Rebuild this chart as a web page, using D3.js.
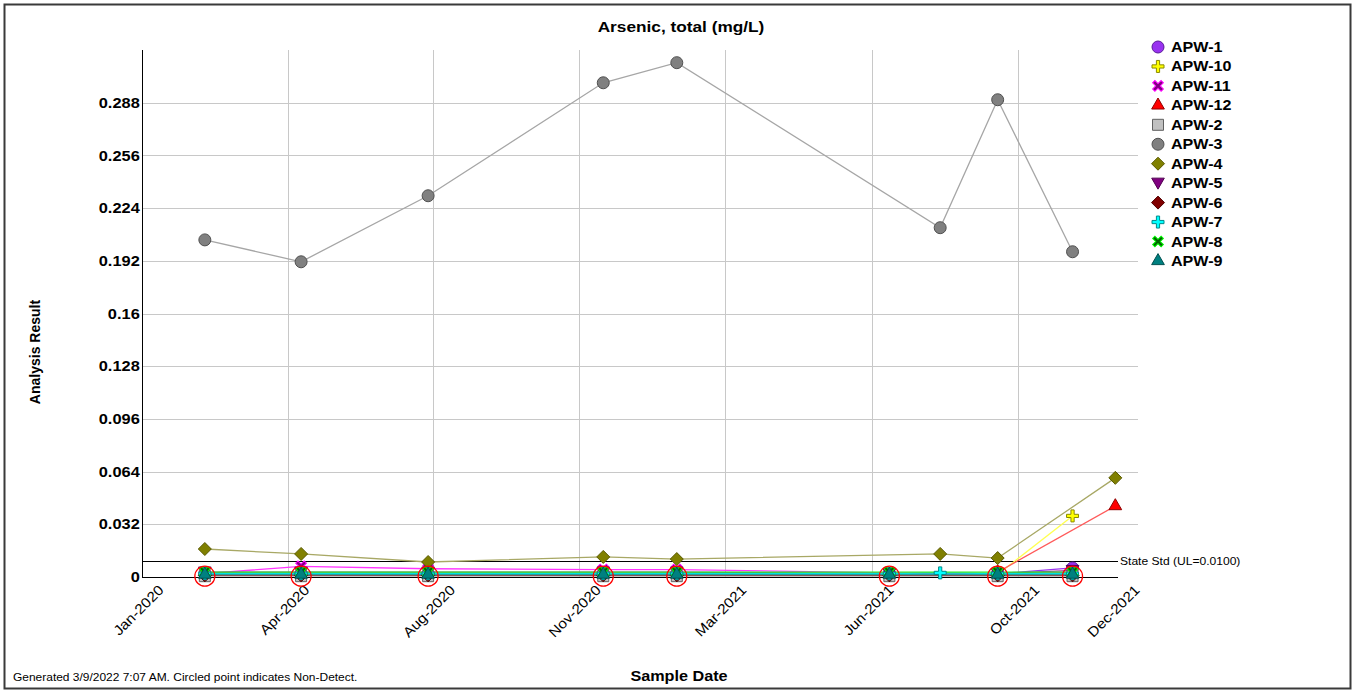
<!DOCTYPE html>
<html><head><meta charset="utf-8">
<script src="https://cdn.jsdelivr.net/npm/d3@7"></script>
<style>body{margin:0;background:#fff;}svg{display:block;font-family:"Liberation Sans",Arial,sans-serif;}</style>
</head><body><svg id="c" width="1355" height="692"></svg>
<script>
// ---- data ----
const wells = ["APW-1","APW-10","APW-11","APW-12","APW-2","APW-3","APW-4","APW-5","APW-6","APW-7","APW-8","APW-9"];
const lowDates = ["2020-02-17","2020-04-29","2020-08-02","2020-12-11","2021-02-04","2021-07-13","2021-10-02","2021-11-27"];
const apw1Values  = [0.002,0.002,0.002,0.002,0.002,0.002,0.002,0.0055];
const apw2Values  = [0.0005,0.0005,0.0005,0.0005,0.0005,0.0005,0.0005,0.0005];
const apw2NonDetect = [true,true,true,true,true,true,true,true];
const apw5Values  = [0.003,0.003,0.003,0.003,0.003,0.002,0.002,0.004];
const apw6Values  = [0.001,0.001,0.001,0.001,0.001,0.001,0.001,0.001];
const apw8Values  = [0.003,0.003,0.003,0.003,0.003,0.003,0.003,0.003];
const apw9Values  = [0.0015,0.0015,0.0015,0.0015,0.0015,0.0015,0.0015,0.0015];
const apw11Values = [0.002,0.0065,0.005,0.0045,0.0045,0.0025,0.002,0.003];
const apw7Dates   = ["2020-02-17","2020-04-29","2020-08-02","2020-12-11","2021-02-04","2021-07-13","2021-08-20","2021-10-02","2021-11-27"];
const apw7Values  = [0.002,0.002,0.002,0.002,0.002,0.002,0.0025,0.002,0.002];
const apw3Dates   = ["2020-02-17","2020-04-29","2020-08-02","2020-12-11","2021-02-04","2021-08-20","2021-10-02","2021-11-27"];
const apw3Values  = [0.2047,0.1914,0.2315,0.3001,0.3123,0.2121,0.2898,0.1975];
const apw4Dates   = ["2020-02-17","2020-04-29","2020-08-02","2020-12-11","2021-02-04","2021-08-20","2021-10-02","2021-12-29"];
const apw4Values  = [0.0170,0.0140,0.0091,0.0122,0.0109,0.0140,0.0115,0.0602];
const apw10Dates  = ["2021-10-02","2021-11-27"];
const apw10Values = [0.0015,0.0371];
const apw12Dates  = ["2021-10-02","2021-12-29"];
const apw12Values = [0.003,0.0431];
const yTicks = [0,0.032,0.064,0.096,0.128,0.16,0.192,0.224,0.256,0.288];
const xTickDates  = ["2020-01-01","2020-04-19","2020-08-06","2020-11-23","2021-03-12","2021-06-30","2021-10-17","2021-12-31"];
const xTickLabels = ["Jan-2020","Apr-2020","Aug-2020","Nov-2020","Mar-2021","Jun-2021","Oct-2021","Dec-2021"];
const stateStd = 0.01;

// ---- styles ----
const P = d3.timeParse("%Y-%m-%d");
const style = {
 "APW-1":{shape:"circle",fill:"#9932f0",stroke:"#5a1a9a",line:"#9932f0"},
 "APW-10":{shape:"plus",fill:"#ffff00",stroke:"#8a8a00",line:"#ffff50"},
 "APW-11":{shape:"x",fill:"#800080",stroke:"#ff00ff",line:"#ff33ff"},
 "APW-12":{shape:"tri",fill:"#ff0000",stroke:"#900000",line:"#ff5a5a"},
 "APW-2":{shape:"square",fill:"#c0c0c0",stroke:"#606060",line:"#b0b0b0"},
 "APW-3":{shape:"circle",fill:"#808080",stroke:"#505050",line:"#a6a6a6"},
 "APW-4":{shape:"diamond",fill:"#808000",stroke:"#5a5a00",line:"#a8a865"},
 "APW-5":{shape:"tridown",fill:"#800080",stroke:"#500050",line:"#a040a0"},
 "APW-6":{shape:"diamond",fill:"#800000",stroke:"#500000",line:"#a04040"},
 "APW-7":{shape:"plus",fill:"#00ffff",stroke:"#008b8b",line:"#00e0e0"},
 "APW-8":{shape:"x",fill:"#006400",stroke:"#00ff00",line:"#22ee22"},
 "APW-9":{shape:"tri",fill:"#008080",stroke:"#005050",line:"#20a0a0"}
};
const series = {
 "APW-1":{d:lowDates,v:apw1Values},
 "APW-10":{d:apw10Dates,v:apw10Values},
 "APW-11":{d:lowDates,v:apw11Values},
 "APW-12":{d:apw12Dates,v:apw12Values},
 "APW-2":{d:lowDates,v:apw2Values,nd:apw2NonDetect},
 "APW-3":{d:apw3Dates,v:apw3Values},
 "APW-4":{d:apw4Dates,v:apw4Values},
 "APW-5":{d:lowDates,v:apw5Values},
 "APW-6":{d:lowDates,v:apw6Values},
 "APW-7":{d:apw7Dates,v:apw7Values},
 "APW-8":{d:lowDates,v:apw8Values},
 "APW-9":{d:lowDates,v:apw9Values}
};

const svg = d3.select("#c");
const L=142, R=1118, GR=1138, T=50, B=577;
const x = d3.scaleTime().domain([P(xTickDates[0]), P(xTickDates[xTickDates.length-1])]).range([L,R]);
const y = d3.scaleLinear().domain([0,0.32]).range([B,T]);

function symPath(shape){
  switch(shape){
    case "circle": return d3.symbol(d3.symbolCircle,113)();
    case "square": return "M-5.5,-5.5H5.5V5.5H-5.5Z";
    case "diamond": return "M0,-6.5L6.5,0L0,6.5L-6.5,0Z";
    case "tri": return d3.symbol(d3.symbolTriangle,70)();
    case "tridown": return "M0,6L-6.3,-5L6.3,-5Z";
    case "plus":
    case "x": { const a=6,t=1.6; return `M${-t},${-a}H${t}V${-t}H${a}V${t}H${t}V${a}H${-t}V${t}H${-a}V${-t}H${-t}Z`; }
  }
}
function drawSym(g, name, cx, cy){
  const st=style[name];
  return g.append("path").attr("d",symPath(st.shape)).attr("fill",st.fill).attr("stroke",st.stroke).attr("stroke-width",1)
    .attr("transform",`translate(${cx},${cy})`+(st.shape==="x"?" rotate(45)":""));
}
function htext(px,py,str,size,weight,sx,anchor){
  return svg.append("text").attr("transform",`translate(${px},${py}) scale(${sx},1)`)
    .attr("text-anchor",anchor||"start").attr("font-size",size).attr("font-weight",weight||"normal").attr("fill","#000").text(str);
}

// border
svg.append("rect").attr("x",4.5).attr("y",4.5).attr("width",1346).attr("height",684).attr("fill","none").attr("stroke","#3a3a3a").attr("stroke-width",2);

// gridlines
svg.append("g").selectAll("line").data(yTicks.slice(1)).join("line")
  .attr("x1",L).attr("x2",GR).attr("y1",d=>Math.round(y(d))+0.5).attr("y2",d=>Math.round(y(d))+0.5).attr("stroke","#c8c8c8").attr("stroke-width",1);
svg.append("g").selectAll("line").data(xTickDates.slice(1,-1)).join("line")
  .attr("x1",d=>Math.round(x(P(d)))+0.5).attr("x2",d=>Math.round(x(P(d)))+0.5).attr("y1",T).attr("y2",B).attr("stroke","#c8c8c8").attr("stroke-width",1);

// axes
svg.append("line").attr("x1",L+0.5).attr("x2",L+0.5).attr("y1",T).attr("y2",B).attr("stroke","#000");
svg.append("line").attr("x1",L).attr("x2",R).attr("y1",B+0.5).attr("y2",B+0.5).attr("stroke","#000");
const yAxis = d3.axisLeft(y).tickValues(yTicks).tickSize(0).tickPadding(2).tickFormat(d=>d===0?"0":String(+d.toFixed(3)));
const gy = svg.append("g").attr("transform",`translate(${L},0)`).call(yAxis);
gy.select(".domain").remove();
gy.selectAll("text").attr("font-size",14.5).attr("font-weight","bold").attr("fill","#000").attr("font-family","Liberation Sans, Arial")
  .attr("transform","scale(1.13,1)");

const xAxis = d3.axisBottom(x).tickValues(xTickDates.map(P)).tickSize(0).tickFormat((d,i)=>xTickLabels[i]);
const gx = svg.append("g").attr("transform",`translate(0,${B})`).call(xAxis);
gx.select(".domain").remove();
gx.selectAll("text").attr("font-size",14).attr("fill","#000").attr("font-family","Liberation Sans, Arial")
  .attr("text-anchor","end").attr("dy",0).attr("y",0).attr("transform","translate(22,14) rotate(-45) scale(1.1,1)");

// state std
svg.append("line").attr("x1",L).attr("x2",R).attr("y1",Math.round(y(stateStd))+0.5).attr("y2",Math.round(y(stateStd))+0.5).attr("stroke","#000").attr("stroke-width",1);
htext(1120,y(stateStd)+4,"State Std (UL=0.0100)",11.5,"normal",1.05);

// series lines
const line = d3.line().x(d=>x(d.date)).y(d=>y(d.value));
const pts = {};
wells.forEach(w=>{
  const s=series[w];
  pts[w]=s.d.map((dd,i)=>({date:P(dd),value:s.v[i],nd:s.nd?s.nd[i]:false}));
});
wells.forEach(w=>{
  svg.append("path").datum(pts[w]).attr("d",line).attr("fill","none").attr("stroke",style[w].line).attr("stroke-width",1.3);
});
const mg = svg.append("g");
wells.forEach(w=>{
  pts[w].forEach(p=>drawSym(mg,w,x(p.date),y(p.value)));
});
// non-detect circles
wells.forEach(w=>{
  pts[w].filter(p=>p.nd).forEach(p=>{
    svg.append("circle").attr("cx",x(p.date)).attr("cy",y(p.value)).attr("r",10).attr("fill","none").attr("stroke","#ff0000").attr("stroke-width",1.3);
  });
});

// legend
const lg = svg.append("g");
wells.forEach((w,i)=>{
  const cy=47+i*19.45;
  drawSym(lg,w,1158,cy);
  htext(1171,cy+5,w,14,"bold",1.15);
});

// titles
htext(681,32,"Arsenic, total (mg/L)",15,"bold",1.15,"middle");
svg.append("text").attr("transform","translate(40,352) rotate(-90)").attr("text-anchor","middle").attr("font-size",14).attr("font-weight","bold").text("Analysis Result");
htext(679,681,"Sample Date",15,"bold",1.08,"middle");
htext(13,681,"Generated 3/9/2022 7:07 AM. Circled point indicates Non-Detect.",10.5,"normal",1.14);
</script></body></html>
